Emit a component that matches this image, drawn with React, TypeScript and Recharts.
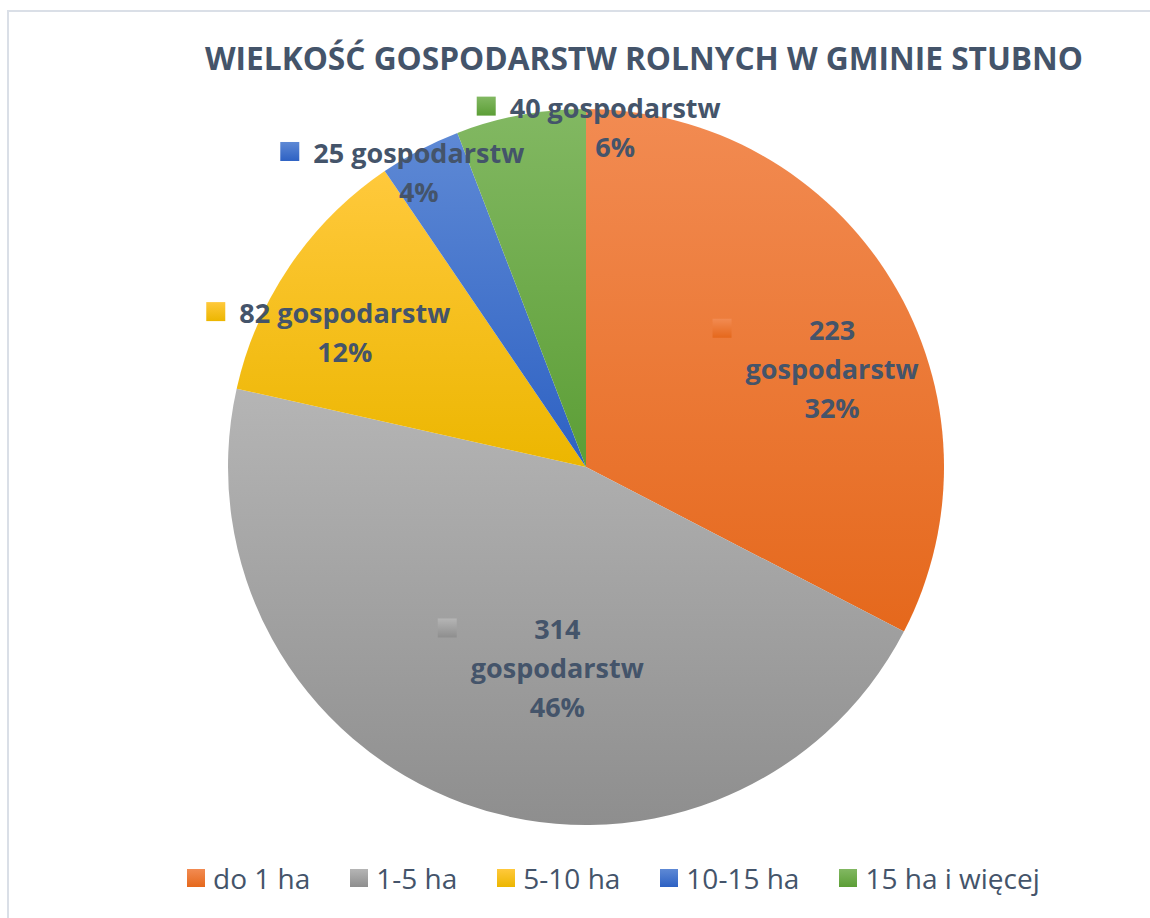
import React from "react";
import { PieChart, Pie, Cell, Legend } from "recharts";

const TITLE = "WIELKOŚĆ GOSPODARSTW ROLNYCH W GMINIE STUBNO";
const CATEGORIES = ["do 1 ha", "1-5 ha", "5-10 ha", "10-15 ha", "15 ha i więcej"];
const FARMS = [223, 314, 82, 25, 40];
const PERCENT_LABELS = ["32%", "46%", "12%", "4%", "6%"];
const UNIT = "gospodarstw";

// light (top) -> dark (bottom) gradient per slice
const GRADIENTS = [
  ["#F28B52", "#E5681C"],
  ["#B5B5B5", "#8E8E8E"],
  ["#FFC93C", "#ECB600"],
  ["#5E89D5", "#2D61C3"],
  ["#82B862", "#5C9E36"],
];

// label placement: offset from the point at 0.7 * radius on the slice's middle angle
const LABEL_LAYOUT = [
  { wrap: true, dx: 32, dy: 3 },
  { wrap: true, dx: 57, dy: -63 },
  { wrap: false, dx: -34, dy: -3 },
  { wrap: false, dx: -51, dy: -82 },
  { wrap: false, dx: 75, dy: -103 },
];

const TEXT = "#44546A";
const LABEL_FONT = "bold 27px 'Open Sans'";

const data = CATEGORIES.map((name, i) => ({ name, value: FARMS[i] }));

let ctx: CanvasRenderingContext2D | null = null;
function measure(text: string, font: string) {
  if (!ctx) ctx = document.createElement("canvas").getContext("2d");
  if (!ctx) return text.length * 14;
  ctx.font = font;
  return ctx.measureText(text).width;
}

const RAD = Math.PI / 180;

function renderLabel(props: any) {
  const { cx, cy, midAngle, outerRadius, index, value } = props;
  const cfg = LABEL_LAYOUT[index];
  const px = cx + outerRadius * 0.7 * Math.cos(-midAngle * RAD);
  const py = cy + outerRadius * 0.7 * Math.sin(-midAngle * RAD);
  const x = px + cfg.dx;
  const y = py + cfg.dy;
  const lines = cfg.wrap
    ? [String(value), UNIT, PERCENT_LABELS[index]]
    : [`${value} ${UNIT}`, PERCENT_LABELS[index]];
  const widest = Math.max(...lines.map((l) => measure(l, LABEL_FONT)));
  const mx = x - widest / 2 - 14 - 19;
  return (
    <g key={`lbl-${index}`}>
      <rect x={mx} y={y - 21} width={19} height={19} fill={`url(#grad${index})`} />
      <text
        x={x}
        y={y}
        textAnchor="middle"
        fill={TEXT}
        fontFamily="'Open Sans'"
        fontWeight="bold"
        fontSize={27}
      >
        {lines.map((l, i) => (
          <tspan key={i} x={x} dy={i === 0 ? 0 : 39}>
            {l}
          </tspan>
        ))}
      </text>
    </g>
  );
}

function LegendContent() {
  return (
    <div style={{ display: "flex", alignItems: "center", height: 36 }}>
      {data.map((d, i) => (
        <div key={d.name} style={{ display: "flex", alignItems: "center", marginRight: 40 }}>
          <span
            style={{
              width: 18,
              height: 18,
              marginRight: 8,
              background: `linear-gradient(${GRADIENTS[i][0]}, ${GRADIENTS[i][1]})`,
            }}
          />
          <span
            style={{
              fontFamily: "'Open Sans'",
              fontSize: 28,
              lineHeight: "36px",
              color: TEXT,
              whiteSpace: "nowrap",
            }}
          >
            {d.name}
          </span>
        </div>
      ))}
    </div>
  );
}

export default function App() {
  return (
    <div
      style={{
        position: "absolute",
        left: 0,
        top: 0,
        width: 1150,
        height: 918,
        overflow: "hidden",
        background: "#fff",
      }}
    >
      <div
        style={{
          position: "absolute",
          left: 7,
          top: 10,
          width: 1300,
          height: 1000,
          borderTop: "2px solid #DADFE7",
          borderLeft: "2px solid #DADFE7",
        }}
      />
      <div style={{ position: "absolute", left: 0, top: 0 }}>
        <PieChart width={1150} height={918} margin={{ top: 0, right: 0, bottom: 0, left: 0 }}>
          <defs>
            {GRADIENTS.map((g, i) => (
              <linearGradient key={i} id={`grad${i}`} x1="0" y1="0" x2="0" y2="1">
                <stop offset="0%" stopColor={g[0]} />
                <stop offset="100%" stopColor={g[1]} />
              </linearGradient>
            ))}
          </defs>
          <Pie
            data={data}
            dataKey="value"
            nameKey="name"
            cx={586}
            cy={467}
            outerRadius={358}
            startAngle={90}
            endAngle={-270}
            stroke="none"
            label={renderLabel}
            labelLine={false}
            isAnimationActive={false}
          >
            {data.map((d, i) => (
              <Cell key={d.name} fill={`url(#grad${i})`} />
            ))}
          </Pie>
          <Legend
            content={<LegendContent />}
            wrapperStyle={{ left: 187, top: 860, width: 960, bottom: "auto" }}
          />
        </PieChart>
      </div>
      <svg
        width={1150}
        height={100}
        style={{ position: "absolute", left: 0, top: 0, pointerEvents: "none" }}
      >
        <text
          x={644}
          y={70}
          textAnchor="middle"
          fill={TEXT}
          fontFamily="'Open Sans'"
          fontWeight="bold"
          fontSize={32}
          textLength={878}
          lengthAdjust="spacingAndGlyphs"
        >
          {TITLE}
        </text>
      </svg>
    </div>
  );
}
